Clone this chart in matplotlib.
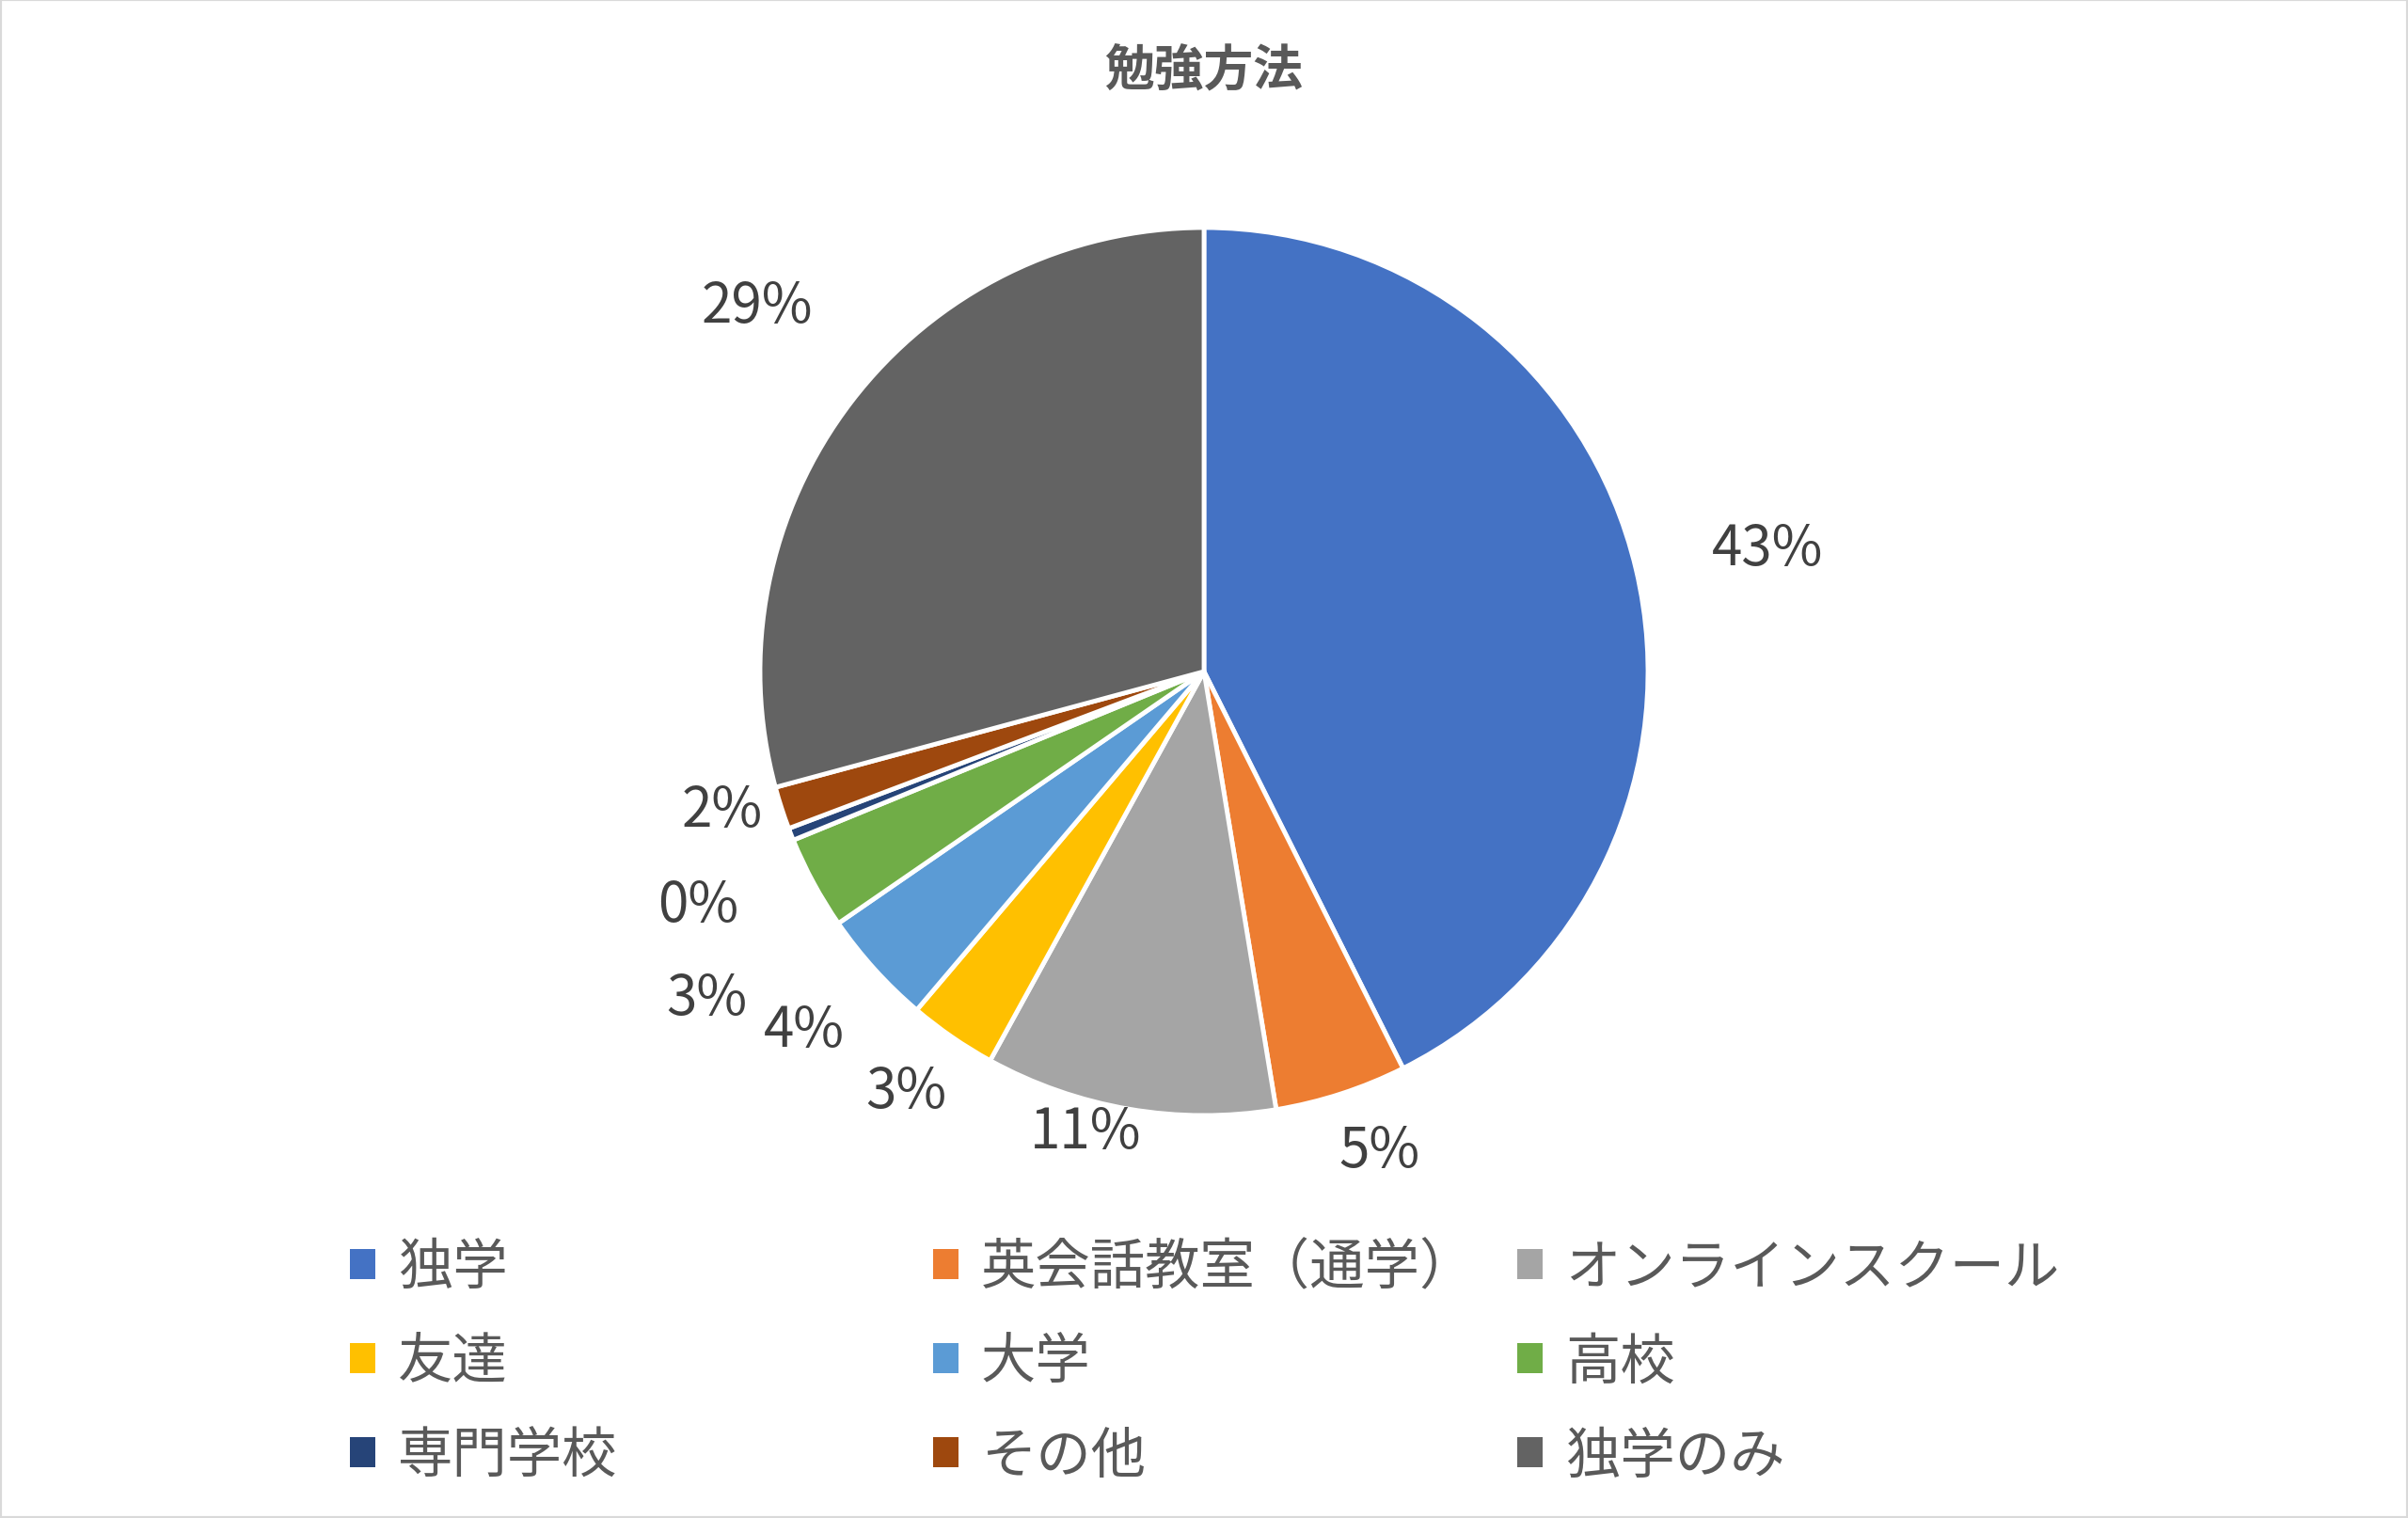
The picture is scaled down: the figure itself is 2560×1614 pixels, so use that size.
import numpy as np
import matplotlib
matplotlib.use('Agg')
import matplotlib.pyplot as plt
from matplotlib.patches import Rectangle

plt.rcParams['font.family'] = ['Noto Sans CJK JP', 'DejaVu Sans']

# data (percent shares)
categories = ['独学', '英会話教室（通学）', 'オンラインスクール', '友達', '大学', '高校',
              '専門学校', 'その他', '独学のみ']
shares = [42.6, 4.8, 10.6, 3.2, 4.2, 3.4, 0.45, 1.55, 29.2]
pct_labels = ['43%', '5%', '11%', '3%', '4%', '3%', '0%', '2%', '29%']
colors = ['#4472C4', '#ED7D31', '#A5A5A5', '#FFC000', '#5B9BD5', '#70AD47',
          '#264478', '#9E480E', '#636363']

# label placement (radius factor, angle shift in degrees clockwise)
label_r = [1.30, 1.15, 1.07, 1.16, 1.21, 1.34, 1.255, 1.13, 1.30]
label_shift = [1.0, -2.1, 4.7, 0.8, 0.2, -4.9, -3.3, 1.8, 1.8]

W, H = 2560, 1615
fig = plt.figure(figsize=(W / 100, H / 100), dpi=100)
ax = fig.add_axes([0, 0, 1, 1])

wedges, _ = ax.pie(shares, colors=colors, startangle=90, counterclock=False,
                   radius=1.0, wedgeprops=dict(edgecolor='white', linewidth=3.5))

# pie centre / radius in pixels (limits set after pie, which resets them)
cx, cy, R = 1280, 715, 472
ax.set_xlim(-cx / R, (W - cx) / R)
ax.set_ylim(-(H - cy) / R, cy / R)
ax.axis('off')

total = sum(shares)
cum = 0
for i, s in enumerate(shares):
    mid_cw = (cum + s / 2) / total * 360 + label_shift[i]
    cum += s
    ang = np.deg2rad(90 - mid_cw)
    ax.text(label_r[i] * np.cos(ang), label_r[i] * np.sin(ang), pct_labels[i],
            ha='center', va='center', fontsize=42, color='#404040')

fig.text(0.5, 1 - 76 / H, '勉強方法', ha='center', va='center',
         fontsize=38, fontweight='bold', color='#595959')

# legend: three columns, filled row by row like the original
col_x = [372 / W, 992 / W, 1613 / W]
for c in range(3):
    idx = [c, c + 3, c + 6]
    leg = fig.legend([wedges[k] for k in idx], [categories[k] for k in idx],
                     loc='center left', bbox_to_anchor=(col_x[c], 1 - 1449 / H),
                     frameon=False, fontsize=42, borderpad=0, borderaxespad=0,
                     handlelength=0.47, handleheight=0.47, handletextpad=0.4,
                     labelspacing=0.67)
    for t in leg.get_texts():
        t.set_color('#595959')
    for h in leg.legend_handles:
        h.set_edgecolor('none')

fig.patches.append(Rectangle((0, 0), 1, 1, transform=fig.transFigure, fill=False,
                             edgecolor='#D9D9D9', linewidth=3))

fig.savefig('out.png', dpi=100, facecolor='white')
